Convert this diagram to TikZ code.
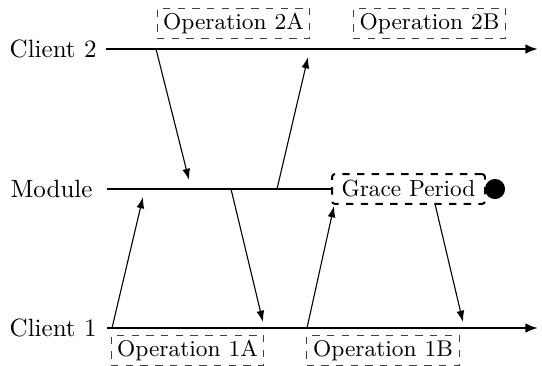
\documentclass[tikz,border=0pt]{standalone}
\usetikzlibrary{arrows.meta}
\begin{document}
\begin{tikzpicture}[x=0.408pt,y=-0.408pt,
  lbl/.style={anchor=east,inner sep=0pt,font=\fontsize{10.2}{12}\selectfont},
  opbox/.style={draw=black!75,dashed,line width=0.4pt,minimum width=62.4pt,minimum height=12.6pt,inner sep=0pt,font=\fontsize{9.3}{11}\selectfont},
  gracebox/.style={draw,dashed,line width=0.8pt,rounded corners=1.2pt,minimum width=62.4pt,minimum height=12.2pt,inner sep=0pt,font=\fontsize{9.5}{11}\selectfont},
  timeline/.style={line width=0.95pt,-{Latex[length=5.2pt,width=4pt]}},
  modline/.style={line width=0.95pt},
  msg/.style={line width=0.45pt,-{Latex[length=4.6pt,width=3.2pt]}}]
\useasboundingbox (0,0) rectangle (542,365);
% labels
\node[lbl] (lc2) at (97,49) {Client 2};
\node[lbl] (lmod) at (93,189) {Module};
\node[lbl] (lc1) at (97,328) {Client 1};
% timeline ends
\coordinate (c2s) at (106,49);
\coordinate (c2e) at (538,49);
\coordinate (c1s) at (107,328);
\coordinate (c1e) at (538,328);
\coordinate (ms) at (107,189);
% grace period and dot
\node[gracebox] (grace) at (408.5,189) {Grace Period};
\node[circle,fill,inner sep=0pt,minimum size=8.2pt] (dot) at (495,189) {};
% operation boxes
\node[opbox] (op2a) at (233.5,23.5) {Operation 2A};
\node[opbox] (op2b) at (429.5,23.5) {Operation 2B};
\node[opbox] (op1a) at (187.5,350.5) {Operation 1A};
\node[opbox] (op1b) at (383,350.5) {Operation 1B};
% timelines
\draw[timeline] (c2s) -- (c2e);
\draw[timeline] (c1s) -- (c1e);
\draw[modline] (ms) -- (grace.west);
% message endpoints
\coordinate (a1s) at (112,328); \coordinate (a1e) at (143,197);
\coordinate (a2s) at (156,49);  \coordinate (a2e) at (189,180);
\coordinate (a3s) at (231,189); \coordinate (a3e) at (263,322);
\coordinate (a4s) at (277,189); \coordinate (a4e) at (308,57);
\coordinate (a5s) at (307,328); \coordinate (a5e) at (334,206);
\coordinate (a6s) at (435,204); \coordinate (a6e) at (463,322);
\draw[msg] (a1s) -- (a1e);
\draw[msg] (a2s) -- (a2e);
\draw[msg] (a3s) -- (a3e);
\draw[msg] (a4s) -- (a4e);
\draw[msg] (a5s) -- (a5e);
\draw[msg] (a6s) -- (a6e);
\end{tikzpicture}
\end{document}
